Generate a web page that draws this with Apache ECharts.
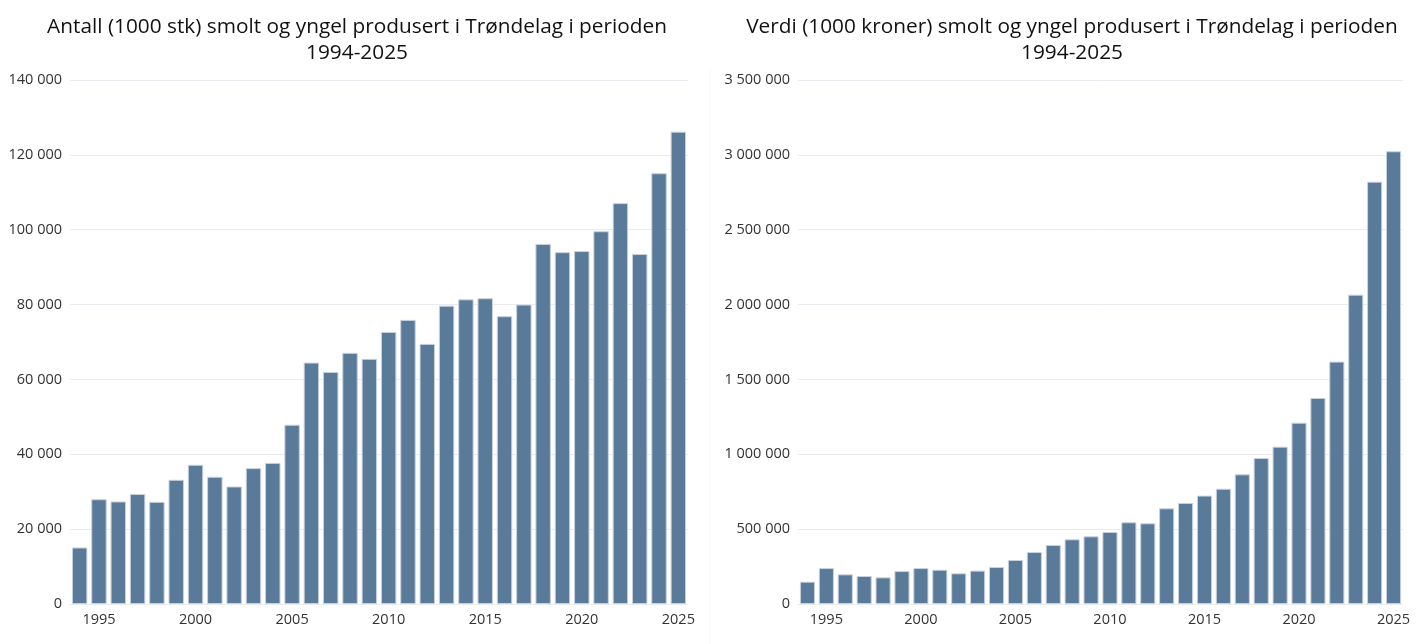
<!DOCTYPE html>
<html><head><meta charset="utf-8">
<script src="https://cdn.jsdelivr.net/npm/echarts@6/dist/echarts.min.js"></script>
<style>html,body{margin:0;padding:0;background:#fff}#c{width:1422px;height:644px}</style>
</head><body><div id="c"></div>
<script>
const years = ['1994','1995','1996','1997','1998','1999','2000','2001','2002','2003','2004','2005','2006','2007','2008','2009','2010','2011','2012','2013','2014','2015','2016','2017','2018','2019','2020','2021','2022','2023','2024','2025'];
const antall = [15100,28000,27400,29400,27300,33200,37200,34000,31400,36300,37700,47900,64500,62000,67100,65500,72700,75900,69500,79700,81400,81700,76900,80000,96200,94000,94300,99600,107100,93500,115100,126200];
const verdi = [149000,240000,198000,187000,178000,220000,240000,229000,205000,223000,247000,294000,347000,394000,432000,452000,481000,546000,539000,639000,675000,724000,770000,866000,975000,1051000,1211000,1376000,1619000,2066000,2821000,3024000];
const titleLeft = 'Antall (1000 stk) smolt og yngel produsert i Trøndelag i perioden\n1994-2025';
const titleRight = 'Verdi (1000 kroner) smolt og yngel produsert i Trøndelag i perioden\n1994-2025';

const FONT = 'Open Sans';
const fmt = v => String(Math.round(v)).replace(/\B(?=(\d{3})+(?!\d))/g, ' ');
const chart = echarts.init(document.getElementById('c'), null, {renderer:'canvas'});
function xAxis(i){
  return {type:'category', gridIndex:i, data:years,
    axisLine:{show:false}, axisTick:{show:false},
    axisLabel:{interval:0, fontFamily:FONT, fontSize:14.5, color:'#333', margin:8,
      formatter:v => (+v % 5 === 0 ? v : '')}};
}
function yAxis(i, max, interval){
  return {type:'value', gridIndex:i, min:0, max:max, interval:interval,
    axisLine:{show:false}, axisTick:{show:false},
    splitLine:{lineStyle:{color:'#e8ebef', width:1}},
    axisLabel:{fontFamily:FONT, fontSize:14.5, color:'#333', margin:8, formatter:fmt}};
}
const barStyle = {color:'#5a7a99', borderColor:'#c9d3de', borderWidth:1};
chart.setOption({
  animation:false,
  title:[
    {text:titleLeft, left:352, top:9, textAlign:'center',
     textStyle:{fontFamily:FONT, fontSize:20.8, fontWeight:'normal', color:'#111', lineHeight:26}},
    {text:titleRight, left:1067, top:9, textAlign:'center',
     textStyle:{fontFamily:FONT, fontSize:20.8, fontWeight:'normal', color:'#111', lineHeight:26}}
  ],
  graphic:[{type:'line', shape:{x1:710, y1:70, x2:710, y2:644}, style:{stroke:'#f7f7f7', lineWidth:1}}],
  grid:[
    {left:70, right:734, top:80, bottom:40},
    {left:798, right:19, top:80, bottom:40}
  ],
  xAxis:[xAxis(0), xAxis(1)],
  yAxis:[yAxis(0,140000,20000), yAxis(1,3500000,500000)],
  series:[
    {type:'bar', xAxisIndex:0, yAxisIndex:0, data:antall, barCategoryGap:'20%', itemStyle:barStyle},
    {type:'bar', xAxisIndex:1, yAxisIndex:1, data:verdi, barCategoryGap:'20%', itemStyle:barStyle}
  ]
});
</script></body></html>
